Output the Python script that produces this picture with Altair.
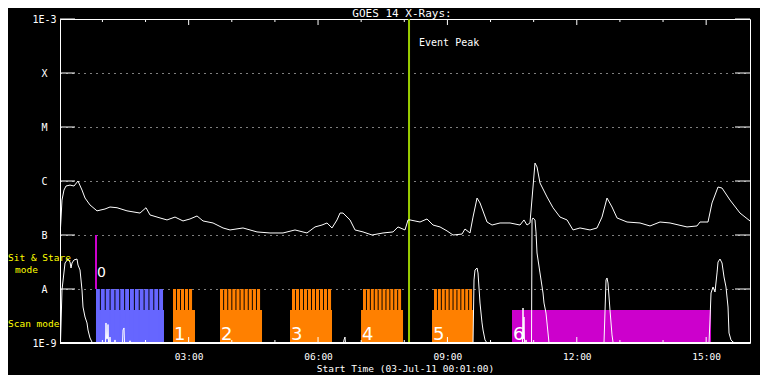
import altair as alt
import pandas as pd

# ---------------- data (hours since 00:00 on 03-Jul-11, flux W/m^2) ----------------
long_h = [0.028, 0.063, 0.109, 0.156, 0.249, 0.341, 0.434, 0.527, 0.597, 0.712,
          0.875, 1.060, 1.176, 1.339, 1.570, 1.872, 2.011, 2.104, 2.336, 2.498,
          2.684, 2.869, 3.031, 3.194, 3.333, 3.565, 3.797, 3.959, 4.260, 4.585,
          4.886, 5.188, 5.466, 5.744, 5.930, 6.092, 6.208, 6.324, 6.440, 6.510,
          6.579, 6.742, 6.858, 7.043, 7.252, 7.507, 7.739, 7.855, 8.017, 8.087,
          8.133, 8.365, 8.527, 8.666, 8.829, 8.991, 9.130, 9.338, 9.408, 9.524,
          9.594, 9.687, 9.756, 9.919, 10.035, 10.220, 10.452, 10.684, 10.776, 10.846,
          10.915, 10.985, 11.031, 11.078, 11.147, 11.310, 11.449, 11.611, 11.774, 11.913,
          12.075, 12.307, 12.469, 12.585, 12.701, 12.817, 12.933, 13.165, 13.466, 13.698,
          13.930, 14.162, 14.556, 14.788, 14.857, 15.043, 15.136, 15.275, 15.368, 15.553,
          15.785, 16.017]
long_f = [1.35e-7, 4.44e-7, 6.8e-7, 8.07e-7, 8.4e-7, 8.07e-7, 1.0e-6, 6.8e-7, 4.84e-7, 3.6e-7,
          2.8e-7, 3.03e-7, 3.3e-7, 3.2e-7, 2.8e-7, 2.55e-7, 3.2e-7, 2.35e-7, 2.07e-7, 1.9e-7,
          2.15e-7, 1.82e-7, 1.98e-7, 2.25e-7, 1.82e-7, 1.67e-7, 1.35e-7, 1.24e-7, 1.35e-7, 1.14e-7,
          1.09e-7, 1.09e-7, 1.24e-7, 1.09e-7, 1.41e-7, 1.53e-7, 1.67e-7, 1.35e-7, 1.9e-7, 2.55e-7,
          2.55e-7, 1.9e-7, 1.24e-7, 1.14e-7, 1.0e-7, 1.09e-7, 1.14e-7, 1.41e-7, 1.24e-7, 1.9e-7,
          1.9e-7, 1.74e-7, 1.98e-7, 1.53e-7, 1.41e-7, 1.19e-7, 1.0e-7, 1.04e-7, 1.29e-7, 1.09e-7,
          2.15e-7, 4.84e-7, 3.92e-7, 1.74e-7, 1.53e-7, 1.67e-7, 1.67e-7, 1.53e-7, 1.9e-7, 1.53e-7,
          1.67e-7, 7.74e-7, 2.15e-6, 1.82e-6, 9.2e-7, 5.06e-7, 3.2e-7, 2.15e-7, 1.9e-7, 1.24e-7,
          1.35e-7, 1.24e-7, 1.35e-7, 2.15e-7, 4.84e-7, 3.3e-7, 2.07e-7, 1.74e-7, 1.67e-7, 1.47e-7,
          1.74e-7, 1.67e-7, 1.41e-7, 1.47e-7, 1.74e-7, 1.74e-7, 3.92e-7, 7.74e-7, 7.4e-7, 4.44e-7,
          2.55e-7, 1.82e-7]

short_h = [0.028, 0.063, 0.133, 0.202, 0.249, 0.272, 0.295, 0.341, 0.411, 0.434,
           0.481, 0.527, 0.550, 0.597, 0.643, 0.666, 0.712, 0.759, 0.782,
           1.072, 1.083, 1.095, 1.118, 1.130, 1.142,
           1.165, 1.176, 1.188,
           1.280, 1.292, 1.304,
           1.466, 1.478, 1.501, 1.513,
           1.628, 1.640, 1.652,
           6.590, 6.602, 6.625, 6.637,
           7.820, 7.831, 7.843,
           9.594, 9.617, 9.640, 9.687, 9.710, 9.756, 9.803, 9.826, 9.872, 9.919,
           10.741, 10.753, 10.765, 10.776, 10.788,
           10.811, 10.823, 10.835,
           10.950, 10.962, 10.985, 11.031, 11.054, 11.078, 11.147, 11.217, 11.240, 11.286,
           11.333, 11.356,
           12.631, 12.678, 12.701, 12.724, 12.770, 12.817, 12.840, 12.863,
           15.066, 15.089, 15.113, 15.159, 15.205, 15.252, 15.275, 15.321, 15.368, 15.414,
           15.460, 15.507, 15.530, 15.576, 15.623, 15.669, 16.017]
short_f = [1e-9, 9.58e-9, 3.03e-8, 3.59e-8, 3.16e-8, 2.45e-8, 3.03e-8, 3.45e-8, 3.59e-8, 2.78e-8,
           2.25e-8, 9.58e-9, 4.64e-9, 3.03e-9, 2.35e-9, 1.74e-9, 1.24e-9, 1.04e-9, 1e-9,
           1e-9, 2.35e-9, 1.2e-9, 1.2e-9, 2.2e-9, 1e-9,
           1e-9, 1.29e-9, 1e-9,
           1e-9, 1.14e-9, 1e-9,
           1e-9, 1.74e-9, 1.9e-9, 1e-9,
           1e-9, 1.1e-9, 1e-9,
           1e-9, 1.14e-9, 1.29e-9, 1e-9,
           1e-9, 1.04e-9, 1e-9,
           1e-9, 1.47e-8, 2.25e-8, 2.45e-8, 1.98e-8, 5.5e-9, 2.35e-9, 1.74e-9, 1.14e-9, 1e-9,
           1e-9, 4.45e-9, 1.2e-9, 3.03e-9, 1e-9,
           1e-9, 1.14e-9, 1e-9,
           1e-9, 1.9e-7, 2.07e-7, 1.9e-7, 1.14e-7, 4.64e-8, 1.98e-8, 8.43e-9, 5.5e-9, 3.59e-9,
           1.53e-9, 1e-9,
           1e-9, 1.47e-8, 1.6e-8, 1.29e-8, 4.09e-9, 1.41e-9, 1.04e-9, 1e-9,
           1e-9, 2.67e-9, 8.43e-9, 1.09e-8, 8.8e-9, 1.98e-8, 3.16e-8, 3.59e-8, 3.03e-8, 1.67e-8,
           1.09e-8, 4.64e-9, 1.53e-9, 1.14e-9, 1.04e-9, 1e-9, 1e-9]

block_names = ["0", "1", "2", "3", "4", "5", "6"]
block_start = [0.851, 2.637, 3.727, 5.350, 6.997, 8.643, 10.498]
block_end = [2.428, 3.147, 4.701, 6.324, 7.971, 9.594, 15.113]
stripe_start = [0.851, 2.637, 3.727, 5.397, 7.043, 8.689, 10.498]
stripe_end = [2.428, 3.101, 4.678, 6.324, 7.948, 9.594, 10.498]
stripe_count = [14, 5, 10, 10, 10, 10, 0]
block_color = ["#6666ff", "#ff8000", "#ff8000", "#ff8000", "#ff8000", "#ff8000", "#cc00cc"]

floor_level = 1e-9
scan_level = 4.09e-9
stripe_top = 1e-8
sit_stare_time = [0.851]
sit_stare_lo = [1e-8]
sit_stare_hi = [1e-7]
event_peak = [8.11]

y_ticks = [1e-9, 1e-8, 1e-7, 1e-6, 1e-5, 1e-4, 1e-3]
y_labels = ["1E-9", "A", "B", "C", "M", "X", "1E-3"]
x_ticks = [3, 6, 9, 12, 15]
x_labels = ["03:00", "06:00", "09:00", "12:00", "15:00"]
hour_marks = list(range(1, 16))
x_domain = [1 / 60, 16 + 1 / 60]
chart_title = "GOES 14 X-Rays:"

# ---------------- tables ----------------
long_df = pd.DataFrame({"h": long_h, "v": long_f})
short_df = pd.DataFrame({"h": short_h, "v": short_f})
blocks_df = pd.DataFrame({"h": block_start, "h2": block_end, "c": block_color,
                          "v": [floor_level] * 7, "v2": [scan_level] * 7, "name": block_names})
rows = []
for s, e, n, c in zip(stripe_start, stripe_end, stripe_count, block_color):
    if n == 0:
        continue
    p = (e - s) / n
    gap = 0.022
    for i in range(n):
        rows.append({"h": s + i * p, "h2": s + (i + 1) * p - gap, "c": c,
                     "v": floor_level, "v2": stripe_top})
stripes_df = pd.DataFrame(rows)
labels_df = pd.DataFrame({"h": block_start[1:], "name": block_names[1:], "v": [1.14e-9] * 6})
label0_df = pd.DataFrame({"h": block_start[:1], "name": block_names[:1], "v": [1.67e-8]})
sit_df = pd.DataFrame({"h": sit_stare_time, "v": sit_stare_lo, "v2": sit_stare_hi})
event_df = pd.DataFrame({"h": event_peak, "v": [3.59e-4], "t": ["Event Peak"]})
ytick_df = pd.DataFrame({"v": y_ticks})
hour_df = pd.DataFrame({"h": hour_marks, "major": [m % 3 == 0 for m in hour_marks]})
title_df = pd.DataFrame({"t": [chart_title]})

MONO = "DejaVu Sans Mono"
xs = alt.Scale(domain=x_domain, nice=False, zero=False)
ys = alt.Scale(type="log", domain=[1e-9, 1e-3], nice=False)

x_label_expr = "[" + ",".join("'%s'" % s for s in x_labels) + "][indexof([" + \
    ",".join(str(t) for t in x_ticks) + "], datum.value)]"
y_label_expr = "[" + ",".join("'%s'" % s for s in y_labels) + "][round(log(datum.value)/LN10)+9]"

x_axis = alt.Axis(values=x_ticks, labelExpr=x_label_expr, title="Start Time (03-Jul-11 00:01:00)",
                  grid=False, ticks=False, tickSize=0, domain=False, labelFont=MONO, labelFontSize=9.5,
                  labelColor="white", labelPadding=8, titleFont=MONO, titleFontSize=9.5,
                  titleFontWeight="normal", titleColor="white", titlePadding=3)
y_axis = alt.Axis(values=y_ticks, labelExpr=y_label_expr, title="", grid=True, gridColor="white",
                  gridDash=[1, 5], gridOpacity=1, ticks=False, tickSize=0, domain=False,
                  labelFont=MONO, labelFontSize=10, labelColor="white", labelAlign="center",
                  labelBaseline="middle", labelPadding=16, labelFlush=True, labelOverlap=False)


def X(f):
    return alt.X(f, type="quantitative", scale=xs, axis=x_axis)


def Y(f):
    return alt.Y(f, type="quantitative", scale=ys, axis=y_axis)


base_rect = alt.Chart(blocks_df).mark_rect().encode(
    x=X("h"), x2="h2", y=Y("v"), y2="v2", color=alt.Color("c:N", scale=None))
stripes = alt.Chart(stripes_df).mark_rect().encode(
    x=X("h"), x2="h2", y=Y("v"), y2="v2", color=alt.Color("c:N", scale=None))
sit_line = alt.Chart(sit_df).mark_rule(color="#cc00cc", strokeWidth=2).encode(
    x=X("h"), y=Y("v"), y2="v2")
event_line = alt.Chart(event_df).mark_rule(color="#99cc00", strokeWidth=2).encode(x=X("h"))
event_text = alt.Chart(event_df).mark_text(align="left", baseline="middle", dx=10, color="white",
                                           font=MONO, fontSize=10).encode(x=X("h"), y=Y("v"), text="t:N")
long_line = alt.Chart(long_df).mark_line(color="white", strokeWidth=1, clip=True).encode(x=X("h"), y=Y("v"))
short_line = alt.Chart(short_df).mark_line(color="white", strokeWidth=1, clip=True).encode(x=X("h"), y=Y("v"))
num_text = alt.Chart(labels_df).mark_text(align="left", baseline="alphabetic", dx=1, color="white",
                                          font="DejaVu Sans", fontSize=18).encode(x=X("h"), y=Y("v"), text="name:N")
num0_text = alt.Chart(label0_df).mark_text(align="left", baseline="alphabetic", dx=1, color="white",
                                           font="DejaVu Sans", fontSize=14).encode(x=X("h"), y=Y("v"), text="name:N")

mode_df1 = pd.DataFrame({"t": ["Sit & Stare"], "v": [3.75e-8]})
mode_df2 = pd.DataFrame({"t": ["mode"], "v": [2.25e-8]})
mode_df3 = pd.DataFrame({"t": ["Scan mode"], "v": [2.25e-9]})
ytxt = dict(align="left", baseline="middle", color="#ffff00", font=MONO, fontSize=9.5)
mode1 = alt.Chart(mode_df1).mark_text(**ytxt).encode(x=alt.value(-52), y=Y("v"), text="t:N")
mode2 = alt.Chart(mode_df2).mark_text(**ytxt).encode(x=alt.value(-45), y=Y("v"), text="t:N")
mode3 = alt.Chart(mode_df3).mark_text(**ytxt).encode(x=alt.value(-52), y=Y("v"), text="t:N")

title_text = alt.Chart(title_df).mark_text(align="center", baseline="alphabetic", color="white",
                                           font=MONO, fontSize=11).encode(
    x=alt.value(342), y=alt.value(-2), text="t:N")

ytick_l = alt.Chart(ytick_df).mark_rule(color="white").encode(
    y=Y("v"), x=alt.value(0), x2=alt.value(15))
ytick_r = alt.Chart(ytick_df).mark_rule(color="white").encode(
    y=Y("v"), x=alt.value(675), x2=alt.value(690))
htop_major = alt.Chart(hour_df).transform_filter("datum.major").mark_rule(color="white").encode(
    x=X("h"), y=alt.value(0), y2=alt.value(6))
htop_minor = alt.Chart(hour_df).transform_filter("!datum.major").mark_rule(color="white").encode(
    x=X("h"), y=alt.value(0), y2=alt.value(3))
hbot_major = alt.Chart(hour_df).transform_filter("datum.major").mark_rule(color="white").encode(
    x=X("h"), y=alt.value(324), y2=alt.value(318))
hbot_minor = alt.Chart(hour_df).transform_filter("!datum.major").mark_rule(color="white").encode(
    x=X("h"), y=alt.value(324), y2=alt.value(321))
bottom_line = alt.Chart(ytick_df).mark_rule(color="white").encode(
    y=alt.value(324), x=alt.value(0), x2=alt.value(690))

chart = alt.layer(
    base_rect, stripes, sit_line, event_line, long_line, short_line,
    event_text, num_text, num0_text, mode1, mode2, mode3, title_text,
    ytick_l, ytick_r, htop_major, htop_minor, hbot_major, hbot_minor, bottom_line
).properties(
    width=690, height=324,
    padding={"left": 52, "top": 11, "right": 10, "bottom": 32},
    autosize=alt.AutoSizeParams(type="none"),
).configure(background="black").configure_view(stroke="white", strokeWidth=1)

chart.save("out.html", embed_options={"renderer": "svg", "actions": False})
